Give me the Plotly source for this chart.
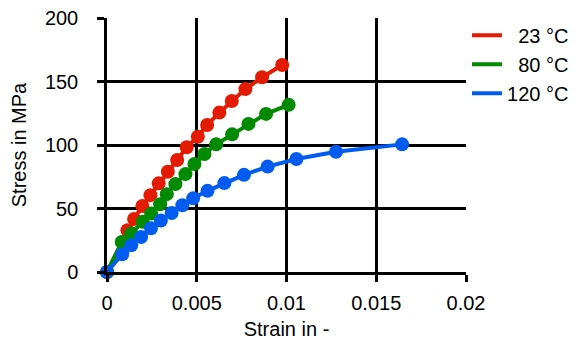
import plotly.graph_objects as go

strain_23 = [0, 0.00114, 0.00151, 0.00197, 0.00242, 0.00288, 0.00339, 0.00391, 0.00444,
             0.00506, 0.00558, 0.00626, 0.00695, 0.00771, 0.00864, 0.00976]
stress_23 = [0, 32.9, 41.8, 52.0, 60.5, 69.8, 78.9, 88.2, 98.2,
             106.5, 115.8, 125.5, 134.7, 144.0, 153.4, 163.0]

strain_80 = [0, 0.00082, 0.00135, 0.00199, 0.00246, 0.00296, 0.00333, 0.00381, 0.00437,
             0.00487, 0.00543, 0.00608, 0.00697, 0.00788, 0.00886, 0.01012]
stress_80 = [0, 23.7, 30.3, 39.5, 46.0, 53.4, 61.3, 69.2, 77.1,
             85.0, 92.9, 100.5, 108.4, 116.6, 124.5, 131.6]

strain_120 = [0, 0.00085, 0.00135, 0.0019, 0.00245, 0.003, 0.0036, 0.0042, 0.0048,
              0.0056, 0.00654, 0.00763, 0.00895, 0.01055, 0.01276, 0.01644]
stress_120 = [0, 14.0, 21.0, 27.5, 34.5, 40.5, 46.5, 52.6, 58.0,
              63.9, 70.0, 76.5, 83.0, 89.0, 94.7, 100.5]

series_names = ["\u200723 °C\u00a0", "\u200780 °C\u00a0", "120 °C\u00a0"]
series_colors = ["#e31b00", "#008a00", "#005cf0"]

x_ticks = [0, 0.005, 0.01, 0.015, 0.02]
x_tick_labels = ["0", "0.005", "0.01", "0.015", "0.02"]
y_ticks = [0, 50, 100, 150, 200]
y_tick_labels = ["0", "50", "100", "150", "200"]

FONT = "Liberation Sans, Arial, sans-serif"
FS = 20

fig = go.Figure()
data = [(strain_23, stress_23), (strain_80, stress_80), (strain_120, stress_120)]
for (xs, ys), name, col in zip(data, series_names, series_colors):
    fig.add_trace(go.Scatter(
        x=xs, y=ys, mode="lines+markers", name=name, showlegend=False,
        line=dict(color=col, width=4), marker=dict(color=col, size=14),
        cliponaxis=False,
    ))
for name, col in zip(series_names, series_colors):
    fig.add_trace(go.Scatter(
        x=[None], y=[None], mode="lines", name=name, showlegend=True,
        line=dict(color=col, width=4),
    ))

axis_common = dict(
    showgrid=True, gridcolor="black", gridwidth=2.5,
    showline=True, linecolor="black", linewidth=2.5,
    ticks="outside", ticklen=7, tickwidth=2.5, tickcolor="black",
    zeroline=False, automargin=False, ticklabeloverflow="allow",
    tickfont=dict(family=FONT, size=FS, color="black"),
)

fig.update_xaxes(range=[0, 0.02], tickvals=x_ticks, ticktext=x_tick_labels,
                 title=dict(text="Strain in -", font=dict(family=FONT, size=FS, color="black"), standoff=10),
                 ticklabelstandoff=4,
                 **axis_common)
fig.update_yaxes(range=[0, 200], tickvals=y_ticks, ticktext=y_tick_labels,
                 title=dict(text="Stress in MPa", font=dict(family=FONT, size=FS, color="black"), standoff=17),
                 ticklabelstandoff=15,
                 **axis_common)

# the page body adds an 8px offset, so margins are shifted accordingly
fig.update_layout(
    width=577, height=342,
    margin=dict(l=99, r=119, t=10, b=78),
    paper_bgcolor="white", plot_bgcolor="white",
    font=dict(family=FONT, size=FS, color="black"),
    legend=dict(x=0.7955, y=0.9775, xanchor="left", yanchor="top",
                xref="container", yref="container",
                font=dict(family=FONT, size=FS, color="black"),
                bgcolor="rgba(0,0,0,0)", itemwidth=30, tracegroupgap=0),
    showlegend=True,
)

fig.write_html("out.html")
